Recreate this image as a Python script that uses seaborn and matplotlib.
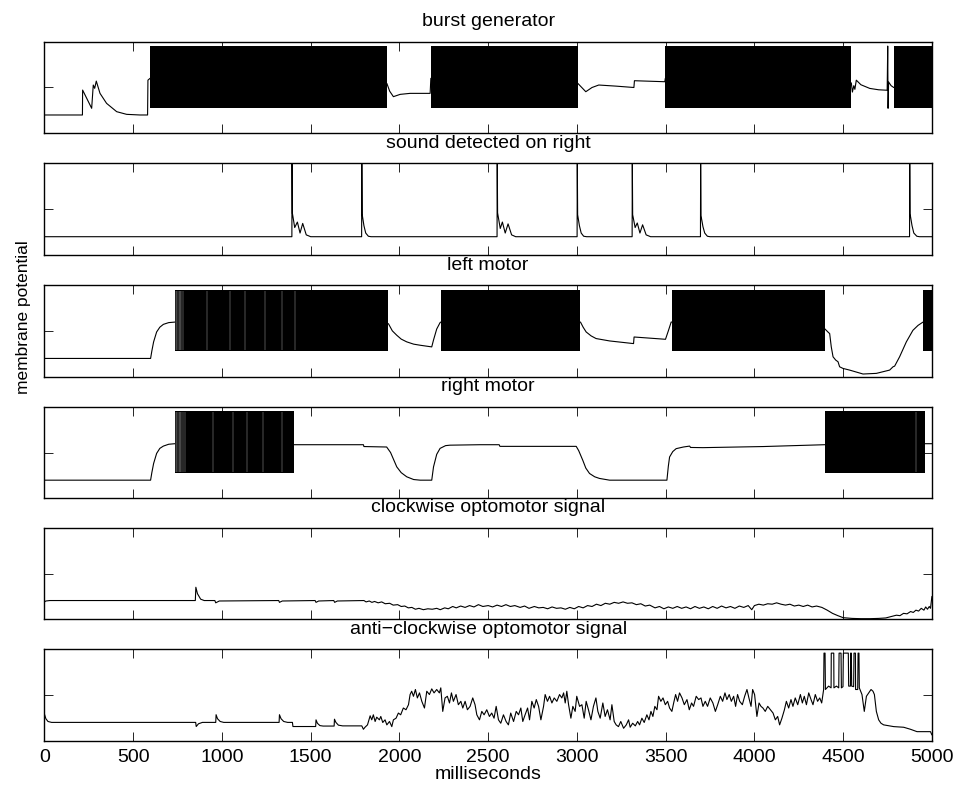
import numpy as np
import pandas as pd
import matplotlib
matplotlib.use("Agg")
import matplotlib.pyplot as plt
import seaborn as sns

# ---------------- data (time in ms, membrane potential in relative units) ----------------
titles = ["burst generator", "sound detected on right", "left motor", "right motor",
          "clockwise optomotor signal", "anti\u2212clockwise optomotor signal"]

# burst generator
burst_t = [0, 214, 215, 266, 275, 283, 292, 313, 350, 407, 463, 538, 581, 583, 595,
           1929, 1945, 1966, 2004, 2060, 2173, 2177,
           3005, 3050, 3085, 3123, 3220, 3321, 3324, 3495, 3498,
           4546, 4552, 4560, 4566, 4574, 4600, 4650, 4700, 4748, 4751, 4753, 4756, 4770, 4785, 5000]
burst_v = [0.2, 0.2, 0.472, 0.273, 0.527, 0.491, 0.570, 0.436, 0.327, 0.236, 0.207, 0.2, 0.2, 0.58, 0.6,
           0.545, 0.46, 0.40, 0.425, 0.436, 0.436, 0.6,
           0.545, 0.454, 0.50, 0.527, 0.515, 0.50, 0.574, 0.563, 0.6,
           0.55, 0.45, 0.52, 0.48, 0.58, 0.53, 0.49, 0.475, 0.47, 0.952, 0.273, 0.56, 0.52, 0.5, 0.5]
burst_on = [595, 2177, 3498, 4785]
burst_off = [1929, 3005, 4546, 5000]
burst_band = (0.273, 0.952)
burst_gaps = []

# sound detected on right
sound_t = [0, 1394, 1395, 1397, 1410, 1425, 1440, 1455, 1475, 1500,
           1787, 1788, 1790, 1800, 1810, 1825, 1840,
           2550, 2551, 2553, 2568, 2580, 2596, 2612, 2632, 2655,
           3001, 3002, 3004, 3014, 3024, 3038, 3055,
           3311, 3312, 3314, 3328, 3340, 3355, 3370, 3390, 3415,
           3696, 3697, 3699, 3710, 3720, 3735, 3750,
           4874, 4875, 4877, 4888, 4898, 4915, 4930, 5000]
sound_v = [0.2, 0.2, 1.05, 0.455, 0.30, 0.36, 0.24, 0.345, 0.22, 0.2,
           0.2, 1.05, 0.445, 0.32, 0.24, 0.205, 0.2,
           0.2, 1.05, 0.46, 0.29, 0.36, 0.24, 0.34, 0.22, 0.2,
           0.2, 1.05, 0.44, 0.32, 0.24, 0.205, 0.2,
           0.2, 1.05, 0.44, 0.30, 0.35, 0.24, 0.33, 0.22, 0.2,
           0.2, 1.05, 0.43, 0.31, 0.24, 0.205, 0.2,
           0.2, 1.05, 0.45, 0.32, 0.24, 0.205, 0.2, 0.2]

# left motor
left_t = [0, 598, 605, 615, 632, 650, 670, 700, 736,
          1938, 1960, 1985, 2010, 2041, 2080, 2117, 2182, 2192, 2210, 2229, 2233,
          3020, 3035, 3052, 3080, 3108, 3184, 3319, 3322, 3499, 3515, 3531, 3537,
          4396, 4414, 4424, 4433, 4443, 4458, 4471, 4480, 4499, 4536, 4612, 4687,
          4762, 4781, 4790, 4818, 4856, 4893, 4922, 4950, 5000]
left_v = [0.199, 0.199, 0.28, 0.38, 0.488, 0.54, 0.571, 0.59, 0.596,
          0.578, 0.50, 0.452, 0.41, 0.380, 0.355, 0.343, 0.325, 0.40, 0.52, 0.59, 0.596,
          0.596, 0.54, 0.488, 0.445, 0.416, 0.390, 0.361, 0.433, 0.408, 0.50, 0.596, 0.596,
          0.523, 0.488, 0.470, 0.325, 0.217, 0.181, 0.163, 0.108, 0.090, 0.072, 0.029, 0.036,
          0.072, 0.108, 0.115, 0.217, 0.380, 0.506, 0.560, 0.596, 0.596]
left_on = [736, 2233, 3537, 4950]
left_off = [1938, 3020, 4396, 5000]
left_band = (0.278, 0.946)
left_gaps = [741, 748, 756, 763, 771, 779, 914, 1046, 1130, 1243, 1337, 1412]

# right motor
right_t = [0, 598, 605, 615, 632, 650, 670, 700, 735,
           1408, 1797, 1800, 1928, 1950, 1985, 2010, 2041, 2080, 2117, 2182, 2192, 2210,
           2229, 2260, 2285, 2455, 2562, 2566, 2996, 3010, 3033, 3050, 3071, 3100, 3127,
           3184, 3507, 3515, 3522, 3540, 3559, 3600, 3635, 3640, 3710, 4050, 4396,
           4963, 5000]
right_v = [0.198, 0.198, 0.28, 0.38, 0.49, 0.545, 0.57, 0.59, 0.596,
           0.585, 0.585, 0.565, 0.560, 0.50, 0.343, 0.28, 0.235, 0.205, 0.198, 0.198, 0.343, 0.48,
           0.545, 0.575, 0.58, 0.585, 0.585, 0.567, 0.567, 0.52, 0.415, 0.33, 0.271, 0.235, 0.217,
           0.198, 0.198, 0.35, 0.451, 0.51, 0.542, 0.56, 0.570, 0.555, 0.553, 0.565, 0.585,
           0.596, 0.596]
right_on = [735, 4396]
right_off = [1408, 4963]
right_band = (0.278, 0.949)
right_gaps = [741, 748, 756, 763, 771, 779, 792, 952, 1064, 1140, 1234, 1337, 4908]

# clockwise optomotor signal
cw_t = [0, 8, 30, 850, 853, 862, 880, 900, 960, 965, 985, 1320, 1324, 1340, 1525, 1530, 1545,
        1630, 1635, 1650, 1800,
        1812, 1830, 1845, 1860, 1880, 1900, 1920, 1945, 1965, 1990, 2010, 2030, 2050, 2070,
        2090, 2110, 2135, 2160, 2185, 2210, 2230, 2255, 2275, 2300, 2320, 2345, 2370, 2395,
        2420, 2445, 2470, 2500, 2525, 2550, 2575, 2600, 2625, 2650, 2680, 2705, 2730, 2760,
        2785, 2810, 2835, 2860, 2885, 2910, 2935, 2960, 2985, 3010, 3035, 3060, 3085, 3110,
        3135, 3160, 3185, 3210, 3235, 3260, 3285, 3310, 3335, 3360, 3385, 3410, 3440, 3465,
        3490, 3515, 3540, 3565, 3590, 3615, 3640, 3665, 3690, 3715, 3740, 3765, 3790, 3815,
        3840, 3865, 3890, 3915, 3940, 3965, 3985, 4000, 4025, 4050, 4075, 4100, 4125, 4150,
        4175, 4200, 4225, 4250, 4275, 4300, 4325, 4350, 4380, 4410, 4440, 4470, 4500, 4550,
        4600, 4650, 4700, 4740, 4770, 4800, 4820, 4840, 4860, 4880, 4895, 4910, 4925, 4940,
        4955, 4965, 4975, 4985, 4992, 5000]
cw_v = [0.19, 0.2, 0.205, 0.205, 0.35, 0.28, 0.22, 0.205, 0.205, 0.18, 0.2, 0.205, 0.185, 0.2,
        0.205, 0.185, 0.2, 0.205, 0.185, 0.2, 0.205,
        0.19, 0.2, 0.185, 0.195, 0.18, 0.19, 0.17, 0.175, 0.155, 0.16, 0.14, 0.145, 0.125, 0.13,
        0.11, 0.12, 0.105, 0.115, 0.11, 0.12, 0.105, 0.125, 0.115, 0.14, 0.125, 0.145, 0.13, 0.15,
        0.135, 0.16, 0.14, 0.15, 0.135, 0.155, 0.14, 0.16, 0.14, 0.15, 0.13, 0.145, 0.12, 0.14,
        0.125, 0.13, 0.115, 0.135, 0.12, 0.125, 0.11, 0.13, 0.115, 0.14, 0.125, 0.15, 0.14, 0.165,
        0.15, 0.175, 0.165, 0.185, 0.175, 0.19, 0.175, 0.18, 0.16, 0.17, 0.145, 0.155, 0.125, 0.14,
        0.115, 0.135, 0.12, 0.14, 0.12, 0.135, 0.115, 0.14, 0.12, 0.135, 0.115, 0.14, 0.12, 0.145,
        0.125, 0.14, 0.12, 0.145, 0.13, 0.15, 0.105, 0.15, 0.165, 0.155, 0.17, 0.165, 0.18, 0.165,
        0.155, 0.165, 0.145, 0.155, 0.14, 0.155, 0.135, 0.145, 0.13, 0.1, 0.065, 0.04, 0.018, 0.01,
        0.007, 0.007, 0.01, 0.015, 0.03, 0.045, 0.04, 0.065, 0.06, 0.085, 0.075, 0.1, 0.09, 0.12,
        0.1, 0.135, 0.11, 0.14, 0.12, 0.25]

# anti-clockwise optomotor signal
acw_t = [0, 8, 20, 40, 852, 855, 868, 890, 965, 967, 975, 990, 1010, 1322, 1324, 1333, 1348, 1370,
         1397, 1400, 1528, 1530, 1538, 1552, 1570, 1632, 1634, 1642, 1656, 1680, 1788, 1797, 1806, 1820,
         1835, 1844, 1853, 1863, 1872, 1887, 1895, 1906, 1919, 1929, 1944, 1957, 1966, 1981, 1994,
         2007, 2022, 2037, 2051, 2060, 2069, 2079, 2090, 2101, 2113, 2126, 2141, 2154, 2169, 2182,
         2195, 2210, 2225, 2233, 2244, 2257, 2270, 2282, 2293, 2304, 2319, 2332, 2346, 2357, 2370,
         2383, 2398, 2413, 2426, 2436, 2451, 2464, 2477, 2492, 2507, 2520, 2533, 2545, 2558, 2571,
         2586, 2601, 2614, 2627, 2643, 2658, 2671, 2684, 2695, 2708, 2722, 2733, 2746, 2759, 2771,
         2784, 2797, 2812, 2821, 2834, 2846, 2859, 2872, 2887, 2902, 2915, 2925, 2934, 2943, 2953,
         2966, 2977, 2990, 2999, 3015, 3028, 3041, 3052, 3065, 3079, 3093, 3107, 3118, 3131, 3146,
         3159, 3172, 3187, 3197, 3210, 3221, 3234, 3247, 3263, 3278, 3291,
         3300, 3314, 3329, 3342, 3353, 3366, 3379, 3394, 3406, 3417, 3428, 3439, 3451, 3460, 3473,
         3485, 3498, 3511, 3522, 3535, 3545, 3556, 3567, 3578, 3592, 3605, 3620, 3633, 3646, 3657,
         3672, 3686, 3699, 3710, 3723, 3736, 3751, 3766, 3780, 3793, 3808, 3821, 3834, 3845, 3858,
         3870, 3883, 3894, 3905, 3917, 3932, 3945, 3958, 3969, 3981, 3990, 4001, 4014, 4026, 4037,
         4048, 4061, 4075, 4090, 4105, 4118, 4131, 4142, 4155, 4169, 4180, 4193, 4206, 4217, 4230,
         4244, 4259, 4270, 4281, 4293, 4306, 4319, 4330, 4343, 4356, 4368, 4379, 4390,
         4392, 4398, 4400, 4418, 4432, 4433, 4447, 4448, 4462, 4475, 4477, 4488, 4490, 4499, 4501,
         4529, 4531, 4541, 4542, 4546, 4548, 4559, 4561, 4569, 4570, 4582, 4584, 4589, 4591,
         4606, 4619, 4631, 4644, 4657, 4668, 4676, 4687, 4700, 4713, 4728, 4785, 4841, 4879, 4916,
         4954, 4992, 5000]
acw_v = [0.29, 0.24, 0.21, 0.2, 0.2, 0.155, 0.185, 0.2, 0.2, 0.284, 0.24, 0.21, 0.2, 0.2, 0.284,
         0.24, 0.21, 0.2, 0.2, 0.155, 0.155, 0.228, 0.19, 0.165, 0.16, 0.16, 0.235, 0.2, 0.17, 0.162,
         0.162, 0.125, 0.147, 0.173,
         0.272, 0.228, 0.283, 0.210, 0.257, 0.228, 0.265, 0.199, 0.228, 0.173, 0.210, 0.154, 0.228,
         0.246, 0.302, 0.283, 0.357, 0.338, 0.393, 0.504, 0.540, 0.485, 0.559, 0.467, 0.522, 0.430,
         0.357, 0.540, 0.504, 0.566, 0.522, 0.559, 0.522, 0.577, 0.320, 0.467, 0.485, 0.412, 0.522,
         0.430, 0.504, 0.393, 0.430, 0.357, 0.430, 0.338, 0.375, 0.467, 0.393, 0.283, 0.228, 0.320,
         0.283, 0.338, 0.265, 0.302, 0.246, 0.375, 0.228, 0.191, 0.283, 0.210, 0.173, 0.302, 0.210,
         0.320, 0.283, 0.357, 0.210, 0.283, 0.357, 0.228, 0.430, 0.357, 0.449, 0.375, 0.228, 0.375,
         0.504, 0.430, 0.485, 0.412, 0.467, 0.430, 0.504, 0.467, 0.522, 0.412, 0.540, 0.393, 0.246,
         0.375, 0.320, 0.485, 0.375, 0.393, 0.246, 0.430, 0.338, 0.228, 0.375, 0.467, 0.320, 0.246,
         0.412, 0.265, 0.338, 0.228, 0.393, 0.210, 0.173, 0.154, 0.210, 0.136, 0.173, 0.228,
         0.147, 0.191, 0.162, 0.210, 0.173, 0.246, 0.199, 0.283, 0.228, 0.320, 0.265, 0.375, 0.338,
         0.485, 0.430, 0.467, 0.393, 0.430, 0.357, 0.320, 0.412, 0.504, 0.430, 0.522, 0.467, 0.393,
         0.449, 0.338, 0.412, 0.375, 0.485, 0.449, 0.467, 0.375, 0.430, 0.375, 0.467, 0.412, 0.320,
         0.393, 0.485, 0.430, 0.522, 0.449, 0.504, 0.430, 0.485, 0.375, 0.504, 0.430, 0.393, 0.485,
         0.559, 0.467, 0.375, 0.559, 0.504, 0.265, 0.412, 0.375, 0.357, 0.320, 0.375, 0.338, 0.302,
         0.228, 0.265, 0.173, 0.246, 0.338, 0.430, 0.357, 0.449, 0.375, 0.467, 0.393, 0.504, 0.412,
         0.485, 0.393, 0.522, 0.449, 0.393, 0.504, 0.430, 0.467, 0.412, 0.559,
         0.956, 0.956, 0.559, 0.596, 0.577, 0.956, 0.956, 0.577, 0.596, 0.577, 0.956, 0.956, 0.577,
         0.590, 0.956, 0.956, 0.596, 0.596, 0.956, 0.956, 0.596, 0.590, 0.956, 0.956, 0.559, 0.559,
         0.956, 0.956, 0.577,
         0.504, 0.320, 0.485, 0.522, 0.559, 0.540, 0.504, 0.320, 0.228, 0.191, 0.173, 0.154, 0.147,
         0.125, 0.099, 0.099, 0.099, 0.063]

# ---------------- drawing ----------------
sns.set_theme(style="ticks")
plt.rcParams["font.family"] = ["Liberation Sans", "DejaVu Sans"]
plt.rcParams["text.color"] = "black"
plt.rcParams["axes.labelcolor"] = "black"
plt.rcParams["xtick.color"] = "black"
plt.rcParams["ytick.color"] = "black"
plt.rcParams["axes.edgecolor"] = "black"

fig = plt.figure(figsize=(9.56, 7.94), dpi=100)

left, width, height = 0.0465, 0.9283, 0.1154
bottoms = [0.8321, 0.6788, 0.5256, 0.3724, 0.2200, 0.0671]

traces = [(burst_t, burst_v), (sound_t, sound_v), (left_t, left_v),
          (right_t, right_v), (cw_t, cw_v), (acw_t, acw_v)]
bands = [(burst_on, burst_off, burst_band, burst_gaps), None,
         (left_on, left_off, left_band, left_gaps),
         (right_on, right_off, right_band, right_gaps), None, None]

xticks = [0, 500, 1000, 1500, 2000, 2500, 3000, 3500, 4000, 4500, 5000]

for i, (title, (t, v), band) in enumerate(zip(titles, traces, bands)):
    ax = fig.add_axes([left, bottoms[i], width, height])
    df = pd.DataFrame({"t": t, "v": v})
    sns.lineplot(data=df, x="t", y="v", ax=ax, color="black", linewidth=0.8,
                 estimator=None, sort=False)
    if band is not None:
        on, off, (lo, hi), gaps = band
        for s, e in zip(on, off):
            ax.fill_between([s, e], lo, hi, color="black", linewidth=0)
        if gaps:
            ax.vlines(gaps, lo + 0.01, hi - 0.01, colors="white", linewidth=0.3, alpha=0.75)
    ax.set_xlim(0, 5000)
    ax.set_ylim(0, 1)
    ax.set_xticks(xticks)
    ax.set_yticks([0.5])
    ax.set_xlabel("")
    ax.set_ylabel("")
    ax.tick_params(direction="in", length=6.5, width=0.6, colors="black",
                   top=True, right=True, labelleft=False,
                   labelbottom=(i == 5), labelsize=14, pad=6)
    for sp in ax.spines.values():
        sp.set_linewidth(1.0)
        sp.set_color("black")
    ax.set_title(title, fontsize=14, pad=11, color="black")
    if i == 5:
        ax.set_xticklabels([str(x) for x in xticks])
        ax.set_xlabel("milliseconds", fontsize=14, labelpad=0, color="black")

fig.text(0.025, 0.60, "membrane potential", rotation=90, ha="center", va="center",
         fontsize=12.5, color="black")

fig.savefig("out.png", dpi=100)
